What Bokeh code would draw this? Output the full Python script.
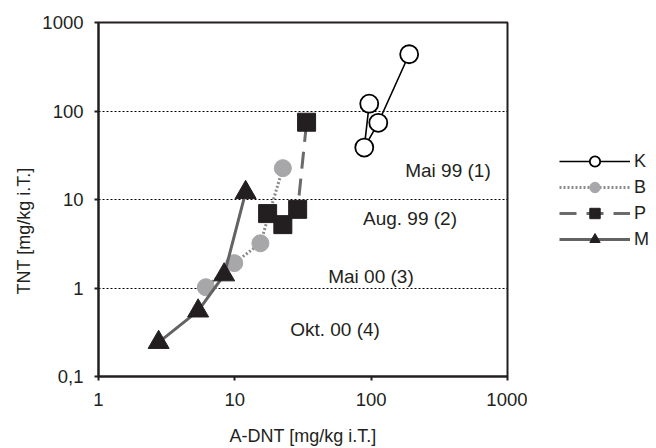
from bokeh.plotting import figure
from bokeh.layouts import row
from bokeh.models import (Range1d, FixedTicker, ColumnDataSource, Legend, LegendItem, Title)
from bokeh.core.properties import value
from bokeh.embed import file_html
from bokeh.resources import INLINE

# ---- data ----
k_x = [96.8, 89.0, 112.8, 190.0]
k_y = [121.0, 38.6, 73.6, 438.0]
b_x = [6.13, 9.9, 15.4, 22.5]
b_y = [1.02, 1.91, 3.2, 22.6]
p_x = [17.4, 22.5, 28.9, 33.6]
p_y = [6.93, 5.2, 7.74, 74.7]
m_x = [2.76, 5.38, 8.35, 12.0]
m_y = [0.243, 0.551, 1.41, 12.0]

series_names = ["K", "B", "P", "M"]

period_labels = ["Mai 99 (1)", "Aug. 99 (2)", "Mai 00 (3)", "Okt. 00 (4)"]
period_x = [366.0, 192.6, 99.7, 54.3]
period_y = [21.1, 6.09, 1.35, 0.344]

x_ticks = [1, 10, 100, 1000]
x_tick_labels = ["1", "10", "100", "1000"]
y_ticks = [0.1, 1, 10, 100, 1000]
y_tick_labels = ["0,1", "1", "10", "100", "1000"]
grid_levels = [1, 10, 100]

x_title = "A-DNT [mg/kg i.T.]"
y_title = "TNT [mg/kg i.T.]"

FONT = "Liberation Sans"
INK = "#231f20"

p = figure(width=527, height=448, x_axis_type="log", y_axis_type="log",
           x_range=Range1d(1, 1000), y_range=Range1d(0.1, 1000),
           output_backend="svg", toolbar_location=None,
           min_border_left=98, min_border_top=22, min_border_right=20,
           min_border_bottom=68)

p.background_fill_color = "white"
p.border_fill_color = "white"
p.outline_line_color = INK
p.outline_line_width = 2

# axes
p.xaxis.ticker = FixedTicker(ticks=x_ticks)
p.yaxis.ticker = FixedTicker(ticks=y_ticks)
p.xaxis.major_label_overrides = {t: l for t, l in zip(x_ticks, x_tick_labels)}
p.yaxis.major_label_overrides = {t: l for t, l in zip(y_ticks, y_tick_labels)}
for ax in (p.xaxis, p.yaxis):
    ax.axis_line_color = INK
    ax.axis_line_width = 2
    ax.major_tick_line_color = INK
    ax.major_tick_line_width = 2
    ax.major_tick_in = 0
    ax.major_tick_out = 4
    ax.minor_tick_line_color = None
    ax.major_label_text_font = FONT
    ax.major_label_text_font_size = "18.5px"
    ax.major_label_text_color = INK
    ax.axis_label_text_font = FONT
    ax.axis_label_text_font_size = "18px"
    ax.axis_label_text_font_style = "normal"
    ax.axis_label_text_color = INK
p.xaxis.axis_label = x_title
p.xaxis.major_label_standoff = 12
p.xaxis.axis_label_standoff = 17
p.yaxis.major_label_standoff = 11

# y-axis title as a side-panel title (allows shifting along the axis)
ytitle = Title(text=y_title, align="left", offset=82, standoff=12,
               text_font=FONT, text_font_size="18px", text_font_style="normal",
               text_color=INK)
p.add_layout(ytitle, "left")

# grid
p.xgrid.grid_line_color = None
p.ygrid.ticker = FixedTicker(ticks=grid_levels)
p.ygrid.grid_line_color = "black"
p.ygrid.grid_line_dash = "2 2"
p.ygrid.grid_line_width = 1

# period annotations
p.text(x=period_x, y=period_y, text=period_labels, text_align="center",
       text_baseline="middle", text_font=value(FONT), text_font_size="19px",
       text_color=INK)

styles = {
    "K": dict(line=dict(line_color="black", line_width=1.6),
              marker=dict(marker="circle", fill_color="white", line_color="black", line_width=1.8),
              size=18),
    "B": dict(line=dict(line_color="#8a8a8a", line_width=3, line_dash="2 2"),
              marker=dict(marker="circle", fill_color="#a7a7aa", line_color="#a7a7aa", line_width=1),
              size=17),
    "P": dict(line=dict(line_color="#6b6b6b", line_width=3, line_dash="17 10"),
              marker=dict(marker="square", fill_color=INK, line_color=INK, line_width=1),
              size=18),
    "M": dict(line=dict(line_color="#636363", line_width=3),
              marker=dict(marker="triangle", fill_color=INK, line_color=INK, line_width=1),
              size=21),
}
data = {"K": (k_x, k_y), "B": (b_x, b_y), "P": (p_x, p_y), "M": (m_x, m_y)}

# legend panel: a small companion figure holding only the legend
lf = figure(width=129, height=448, output_backend="svg", toolbar_location=None,
            x_axis_location=None, y_axis_location=None,
            x_range=Range1d(0, 1), y_range=Range1d(0, 1),
            min_border_left=0, min_border_right=0, min_border_top=0, min_border_bottom=0)
lf.outline_line_color = None
lf.grid.grid_line_color = None
lf.background_fill_color = "white"
lf.border_fill_color = "white"

items = []
nan = float("nan")
for name in series_names:
    xs, ys = data[name]
    st = styles[name]
    src = ColumnDataSource(data=dict(x=xs, y=ys))
    p.line("x", "y", source=src, **st["line"])
    p.scatter("x", "y", source=src, size=st["size"], **st["marker"])
    # legend-only glyphs (a single missing point)
    lsrc = ColumnDataSource(data=dict(x=[nan], y=[nan]))
    lr = lf.line("x", "y", source=lsrc, **st["line"])
    mr = lf.scatter("x", "y", source=lsrc, size=st["size"], **st["marker"])
    items.append(LegendItem(label=name, renderers=[lr, mr]))

legend = Legend(items=items, location=(32, 124), padding=0, margin=0, spacing=0,
                glyph_width=71, glyph_height=26, label_height=20,
                label_standoff=4,
                label_text_font=FONT, label_text_font_size="18px", label_text_color=INK,
                border_line_alpha=0, background_fill_alpha=0)
lf.add_layout(legend, "center")

layout = row(p, lf, spacing=0)
open("out.html", "w").write(file_html(layout, INLINE))
